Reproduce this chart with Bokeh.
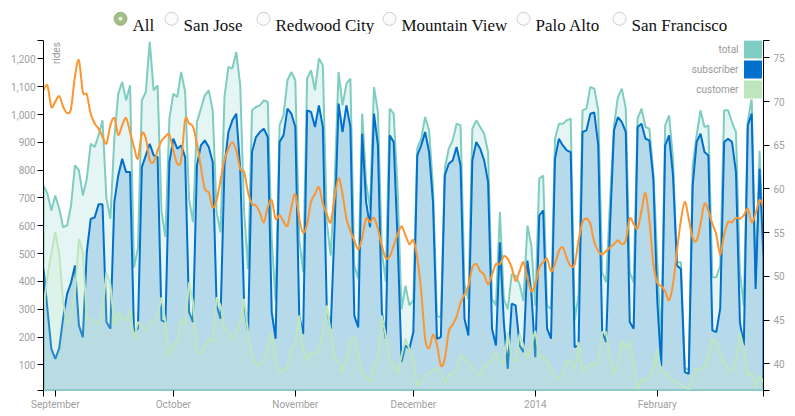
import numpy as np
import pandas as pd
from bokeh.plotting import figure
from bokeh.layouts import column
from bokeh.models import Range1d, LinearAxis, FixedTicker, NumeralTickFormatter, Label
from bokeh.core.properties import value
from bokeh.embed import file_html
from bokeh.resources import INLINE

# daily rides, Bay Area bike share, 2013-08-29 .. 2014-02-28
first_day = "2013-08-29"

total = [
    745, 715, 655, 709, 661, 595, 601, 673, 817, 799,
    709, 769, 895, 883, 925, 979, 697, 625, 913, 1075,
    1117, 1051, 1105, 450, 520, 1051, 1081, 1261, 1087, 1105,
    650, 560, 985, 1075, 1063, 1153, 1081, 697, 613, 973,
    1021, 1069, 1087, 1015, 649, 577, 1063, 1171, 1165, 1225,
    1105, 649, 445, 1015, 1027, 1033, 1051, 1045, 553, 330,
    961, 997, 1123, 1153, 1123, 553, 433, 1129, 1159, 1087,
    1201, 1177, 614, 493, 760, 1153, 1033, 1111, 1129, 457,
    409, 1003, 757, 661, 1099, 1009, 505, 400, 1021, 1003,
    733, 300, 385, 314, 332, 877, 913, 991, 943, 740,
    277, 271, 805, 877, 907, 967, 961, 390, 336, 949,
    979, 955, 931, 865, 337, 314, 649, 337, 300, 427,
    421, 390, 330, 601, 529, 313, 769, 781, 313, 301,
    913, 967, 967, 979, 985, 260, 352, 1015, 1021, 1099,
    1093, 1015, 433, 397, 690, 961, 1063, 1093, 1021, 433,
    397, 985, 1021, 955, 949, 793, 480, 170, 961, 997,
    841, 469, 469, 90, 82, 817, 925, 1015, 955, 961,
    415, 415, 457, 1015, 1015, 973, 937, 433, 313, 973,
    1060, 400, 870, 520,
]

subscriber = [
    445, 300, 158, 122, 160, 270, 355, 395, 457, 242,
    200, 505, 625, 630, 677, 677, 254, 230, 685, 781,
    841, 793, 793, 218, 230, 811, 853, 895, 853, 847,
    260, 254, 830, 913, 877, 889, 847, 290, 254, 817,
    889, 907, 883, 829, 314, 266, 817, 937, 979, 1003,
    805, 314, 218, 865, 919, 937, 949, 919, 290, 194,
    901, 925, 1021, 1003, 955, 277, 211, 1015, 1009, 955,
    1033, 955, 300, 230, 600, 1039, 937, 1033, 955, 277,
    235, 931, 685, 595, 1003, 889, 290, 194, 925, 901,
    553, 110, 170, 158, 218, 853, 889, 937, 865, 685,
    194, 200, 781, 823, 835, 883, 817, 266, 206, 835,
    901, 877, 835, 757, 230, 170, 541, 254, 86, 320,
    314, 170, 146, 475, 361, 128, 637, 655, 230, 194,
    841, 913, 889, 871, 865, 164, 170, 937, 943, 1003,
    1007, 889, 218, 182, 601, 943, 991, 973, 937, 254,
    230, 955, 967, 913, 907, 769, 330, 95, 889, 925,
    781, 457, 445, 74, 68, 745, 901, 931, 865, 853,
    224, 218, 302, 901, 913, 901, 793, 254, 170, 961,
    1003, 373, 805, 480,
]

customer = [
    300, 420, 500, 577, 500, 325, 245, 280, 360, 553,
    505, 266, 266, 255, 248, 302, 433, 390, 242, 290,
    270, 258, 302, 194, 254, 240, 225, 254, 254, 278,
    343, 254, 134, 170, 188, 266, 242, 397, 325, 152,
    140, 170, 194, 182, 343, 314, 230, 218, 188, 218,
    254, 337, 218, 134, 104, 98, 122, 158, 218, 120,
    74, 80, 92, 158, 176, 277, 158, 116, 146, 140,
    158, 218, 314, 218, 134, 110, 74, 122, 194, 200,
    146, 74, 56, 38, 104, 122, 277, 206, 122, 104,
    68, 134, 194, 158, 122, 25, 38, 62, 74, 80,
    86, 74, 32, 62, 68, 86, 134, 122, 110, 92,
    74, 56, 98, 104, 122, 146, 110, 104, 217, 122,
    110, 211, 170, 122, 170, 223, 128, 128, 116, 86,
    62, 50, 74, 116, 110, 86, 182, 74, 92, 104,
    98, 122, 218, 218, 134, 68, 98, 188, 158, 186,
    110, 14, 50, 42, 56, 86, 158, 74, 74, 56,
    44, 38, 26, 20, 14, 62, 86, 80, 98, 134,
    194, 182, 146, 110, 86, 74, 122, 218, 158, 62,
    74, 20, 62, 38,
]

# daily mean temperature, °F
temperature = [
    71.3, 71.8, 69.4, 70.0, 70.6, 69.4, 68.7, 69.2, 72.9, 74.7,
    71.1, 70.8, 68.6, 67.5, 66.9, 66.0, 65.2, 67.3, 68.1, 66.2,
    67.3, 68.1, 66.5, 64.8, 63.5, 66.3, 65.8, 63.3, 63.1, 64.4,
    65.5, 66.0, 66.2, 64.4, 62.9, 63.3, 67.9, 67.5, 67.1, 65.2,
    62.5, 60.0, 59.6, 57.9, 58.7, 61.0, 63.3, 64.6, 65.3, 64.4,
    62.3, 61.9, 59.6, 58.3, 58.1, 57.3, 56.2, 57.9, 58.7, 56.6,
    57.0, 56.3, 55.8, 57.9, 59.4, 56.6, 55.0, 56.0, 58.5, 59.4,
    60.2, 58.3, 57.1, 56.2, 59.0, 61.2, 59.4, 56.6, 55.2, 54.1,
    53.1, 54.4, 56.6, 56.2, 56.7, 55.4, 53.5, 52.1, 52.3, 53.5,
    54.8, 55.7, 54.7, 53.7, 54.1, 52.1, 48.3, 42.9, 41.8, 43.3,
    42.2, 39.8, 40.6, 43.7, 44.5, 45.4, 47.0, 47.9, 48.9, 51.0,
    51.4, 50.6, 50.2, 49.1, 50.2, 51.4, 51.4, 52.3, 52.0, 51.0,
    49.5, 50.6, 51.6, 49.8, 48.3, 49.1, 51.0, 51.6, 52.0, 50.6,
    51.4, 52.9, 53.3, 52.1, 51.2, 51.4, 54.1, 56.2, 56.6, 56.0,
    53.9, 52.9, 52.5, 52.9, 53.3, 53.7, 54.1, 53.7, 54.1, 56.6,
    56.0, 55.5, 57.5, 59.5, 56.4, 51.4, 49.3, 48.9, 48.3, 47.3,
    49.1, 52.9, 56.4, 58.5, 56.6, 54.4, 54.1, 56.0, 58.3, 57.5,
    56.0, 54.8, 52.5, 54.8, 56.2, 56.2, 56.7, 56.6, 57.0, 57.7,
    56.2, 57.2, 58.7, 58.0,
]

month_starts = ["2013-09-01", "2013-10-01", "2013-11-01", "2013-12-01", "2014-01-01", "2014-02-01"]
month_labels = ["September", "October", "November", "December", "2014", "February"]
rides_ticks = [100, 200, 300, 400, 500, 600, 700, 800, 900, 1000, 1100, 1200]
temp_ticks = [40, 45, 50, 55, 60, 65, 70, 75]
cities = ["All", "San Jose", "Redwood City", "Mountain View", "Palo Alto", "San Francisco"]
selected_city = "All"

RIDES_LO, RIDES_HI = 8, 1266
TEMP_LO, TEMP_HI = 36.95, 76.98

TEAL = "#7fcdc1"
BLUE = "#0070cc"
GREEN = "#bfe5bf"
ORANGE = "#fb9631"
TICK_FONT = "Roboto"
TICK_COLOR = "#a0a0a0"

FW, FH = 720, 350
BORDER_L, BORDER_R = 43, 32
HEADER_H = 34


def to_ms(d):
    return pd.to_datetime(d).values.astype("datetime64[ms]").astype("int64")


days = pd.date_range(first_day, periods=len(total), freq="D")
x = to_ms(days).astype(float)

p = figure(x_axis_type="datetime", frame_width=FW, frame_height=FH,
           x_range=Range1d(x[0], x[-1]), y_range=Range1d(RIDES_LO, RIDES_HI),
           min_border_left=BORDER_L, min_border_right=BORDER_R,
           min_border_top=6, min_border_bottom=26,
           toolbar_location=None, tools="", output_backend="svg")
p.outline_line_color = None
p.xgrid.visible = False
p.ygrid.visible = False

xs_area = np.concatenate([x, x[::-1]])


def area(vals, color):
    ys = np.concatenate([np.asarray(vals, dtype=float), np.full(len(vals), float(RIDES_LO))])
    p.patch(xs_area, ys, fill_color=color, fill_alpha=0.2, line_color=color, line_width=2)


area(total, TEAL)
area(subscriber, BLUE)
area(customer, GREEN)

# temperature drawn as a smooth curve through the daily values (Catmull-Rom segments)
p.extra_y_ranges = {"temp": Range1d(TEMP_LO, TEMP_HI)}
t = np.asarray(temperature, dtype=float)
tp = np.concatenate([t[:1], t, t[-1:]])
xp = np.concatenate([x[:1], x, x[-1:]])
p.bezier(x0=xp[1:-2], y0=tp[1:-2], x1=xp[2:-1], y1=tp[2:-1],
         cx0=xp[1:-2] + (xp[2:-1] - xp[:-3]) / 6, cy0=tp[1:-2] + (tp[2:-1] - tp[:-3]) / 6,
         cx1=xp[2:-1] - (xp[3:] - xp[1:-2]) / 6, cy1=tp[2:-1] - (tp[3:] - tp[1:-2]) / 6,
         y_range_name="temp", line_color=ORANGE, line_width=2, line_cap="round")

right = LinearAxis(y_range_name="temp")
p.add_layout(right, "right")


def style_axis(ax, ticks, overrides, standoff):
    ax.ticker = FixedTicker(ticks=ticks, minor_ticks=[])
    ax.major_label_overrides = overrides
    ax.major_tick_in = 0
    ax.major_tick_out = 6
    ax.minor_tick_in = 0
    ax.minor_tick_out = 0
    ax.axis_line_color = "black"
    ax.major_tick_line_color = "black"
    ax.major_label_text_font = TICK_FONT
    ax.major_label_text_font_size = "10px"
    ax.major_label_text_color = TICK_COLOR
    ax.major_label_standoff = standoff


left = p.yaxis[0]
left.formatter = NumeralTickFormatter(format="0,0")
style_axis(left, [RIDES_LO] + rides_ticks + [RIDES_HI], {RIDES_LO: "", RIDES_HI: ""}, 2)

style_axis(right, [TEMP_LO] + temp_ticks + [TEMP_HI], {TEMP_LO: "", TEMP_HI: ""}, 4)

month_ms = [int(v) for v in to_ms(month_starts)]
x_ends = [int(x[0]), int(x[-1])]
bottom = p.xaxis[0]
x_over = {m: lab for m, lab in zip(month_ms, month_labels)}
x_over.update({x_ends[0]: "", x_ends[1]: ""})
style_axis(bottom, [x_ends[0]] + month_ms + [x_ends[1]], x_over, 2)
bottom.axis_line_color = None


def fx(px):
    return x[0] + (x[-1] - x[0]) * px / FW


def fy(py):
    return RIDES_HI - (RIDES_HI - RIDES_LO) * py / FH


# legend: label on the left, swatch on the right
for k, (name, color) in enumerate([("total", TEAL), ("subscriber", BLUE), ("customer", GREEN)]):
    p.scatter([fx(709.5)], [fy(9 + 20 * k)], marker="square", size=19,
              fill_color=color, line_color="white", line_width=1)
    p.add_layout(Label(x=fx(695), y=fy(9 + 20 * k), text=name, text_align="right",
                       text_baseline="middle", text_font=TICK_FONT, text_font_size="10px",
                       text_color="#999999"))

for txt, px in [("rides", 7), ("°F", 725)]:
    p.add_layout(Label(x=fx(px), y=fy(1.7), text=txt, angle=np.pi / 2, text_align="right",
                       text_baseline="top", text_font=TICK_FONT, text_font_size="10px",
                       text_color="#999999"))

# city selector row (coordinates in page pixels, frame aligned with the chart below)
radio_x = [120, 171, 263, 389, 523, 619]
h = figure(frame_width=FW, frame_height=HEADER_H, x_range=Range1d(43, 763), y_range=Range1d(HEADER_H, 0),
           x_axis_location=None, y_axis_location=None,
           min_border_left=BORDER_L, min_border_right=BORDER_R, min_border_top=0, min_border_bottom=0,
           toolbar_location=None, tools="", output_backend="svg")
h.grid.visible = False
h.outline_line_color = None
on = [c == selected_city for c in cities]
h.scatter([cx for cx, s in zip(radio_x, on) if not s], 18.3, size=13,
          fill_color="#fbfbfb", line_color="#cfcfcf", line_width=1)
h.scatter([cx for cx, s in zip(radio_x, on) if s], 18.3, size=13,
          fill_color="#a3bd88", line_color="#98b47c", line_width=1)
h.scatter([cx for cx, s in zip(radio_x, on) if s], 18.3, size=4,
          fill_color="#eef4e6", line_color=None)
h.text([cx + 12 for cx in radio_x], [25] * len(cities), text=cities,
       text_font=value("Liberation Serif"), text_font_size="17px",
       text_color="#111111", text_baseline="alphabetic")

layout = column(h, p)
open("out.html", "w").write(file_html(layout, INLINE))
